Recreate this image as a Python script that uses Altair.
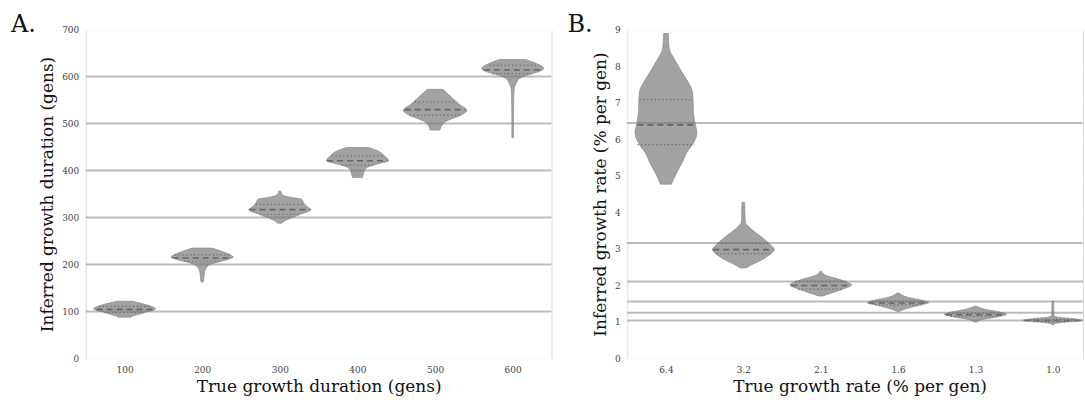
import altair as alt
import pandas as pd

# ---------------- Panel A data ----------------
A_labels = ["100", "200", "300", "400", "500", "600"]
A_true = [100, 200, 300, 400, 500, 600]
# violin outlines: (inferred value, half-width as fraction of category spacing)
A_profiles = [
    [(122, 0.10), (118, 0.20), (113, 0.31), (108, 0.39), (106, 0.40), (103, 0.37),
     (99, 0.28), (94, 0.18), (90, 0.10), (88, 0.08)],
    [(235, 0.13), (230, 0.22), (224, 0.32), (218, 0.39), (215.5, 0.40), (212, 0.35),
     (207, 0.24), (203, 0.15), (198, 0.08), (192, 0.05), (185, 0.032), (175, 0.023), (163, 0.015)],
    [(356, 0.015), (350, 0.026), (346, 0.064), (342, 0.18), (339, 0.28), (334, 0.30),
     (328, 0.32), (322, 0.36), (317, 0.40), (313, 0.37), (308, 0.28), (303, 0.21),
     (298, 0.13), (293, 0.064), (288, 0.026)],
    [(449, 0.14), (442, 0.26), (431, 0.35), (421, 0.40), (414, 0.26), (407, 0.13),
     (400, 0.09), (392, 0.075), (385, 0.064)],
    [(572.7, 0.10), (562, 0.17), (551.5, 0.24), (540, 0.32), (528, 0.41), (516, 0.31),
     (505.5, 0.15), (497, 0.09), (486, 0.064)],
    [(636, 0.17), (628, 0.30), (617, 0.40), (611, 0.35), (604.5, 0.22), (596, 0.09),
     (587, 0.05), (580, 0.03), (574, 0.02), (550, 0.013), (520, 0.01), (470, 0.01)],
]
A_median = [(104.6, 0.36), (214, 0.38), (316.8, 0.39), (420.7, 0.39), (529.6, 0.39), (613.7, 0.37)]
A_q3 = [(111, 0.33), (220.6, 0.35), (328, 0.31), (431, 0.33), (545.9, 0.26), (623.6, 0.30)]
A_q1 = [(98, 0.26), (207, 0.23), (307, 0.26), (411.5, 0.20), (518, 0.33), (606, 0.26)]

# ---------------- Panel B data ----------------
B_labels = ["6.4", "3.2", "2.1", "1.6", "1.3", "1.0"]
B_true = [6.44, 3.16, 2.11, 1.56, 1.25, 1.04]
B_profiles = [
    [(8.89, 0.03), (8.64, 0.035), (8.41, 0.05), (8.27, 0.087), (8.0, 0.16), (7.82, 0.21),
     (7.55, 0.29), (7.32, 0.34), (7.09, 0.35), (6.73, 0.355), (6.45, 0.375), (6.18, 0.40),
     (5.91, 0.36), (5.64, 0.27), (5.36, 0.21), (5.09, 0.14), (4.77, 0.07)],
    [(4.27, 0.017), (4.0, 0.02), (3.73, 0.026), (3.59, 0.078), (3.41, 0.18), (3.23, 0.29),
     (3.09, 0.36), (2.98, 0.40), (2.84, 0.34), (2.68, 0.22), (2.53, 0.078), (2.48, 0.04)],
    [(2.38, 0.013), (2.27, 0.07), (2.18, 0.22), (2.09, 0.34), (2.02, 0.40), (1.91, 0.30),
     (1.80, 0.15), (1.71, 0.026)],
    [(1.79, 0.013), (1.68, 0.12), (1.59, 0.32), (1.53, 0.40), (1.45, 0.26), (1.36, 0.10),
     (1.29, 0.013)],
    [(1.43, 0.013), (1.35, 0.12), (1.27, 0.32), (1.21, 0.40), (1.14, 0.28), (1.07, 0.09),
     (1.0, 0.013)],
    [(1.57, 0.01), (1.18, 0.015), (1.14, 0.05), (1.09, 0.26), (1.045, 0.39), (1.0, 0.17),
     (0.955, 0.026), (0.93, 0.013)],
]
B_median = [(6.39, 0.37), (2.98, 0.39), (2.0, 0.38), (1.52, 0.38), (1.2, 0.38), (1.04, 0.37)]
B_q3 = [(7.08, 0.34), (3.15, 0.33), (2.11, 0.33), (1.57, 0.34), (1.24, 0.35), (1.07, 0.30)]
B_q1 = [(5.85, 0.37), (2.87, 0.35), (1.90, 0.29), (1.47, 0.30), (1.15, 0.32), (1.01, 0.25)]

SERIF = "DejaVu Serif"
BG = "#e6e6e6"


def violin_frame(profiles):
    rows = []
    for i, prof in enumerate(profiles):
        for v, w in prof:
            rows.append({"cat": i, "v": v, "left": i - w, "right": i + w})
    return pd.DataFrame(rows)


def line_frame(items):
    return pd.DataFrame([{"cat": i, "v": v, "left": i - w, "right": i + w}
                         for i, (v, w) in enumerate(items)])


def panel(labels, true_vals, profiles, med, q3, q1, ymax, ystep, xmax, width,
          ytitle, xtitle, letter, letter_dx, xtitle_x=None):
    label_expr = "[" + ",".join("'%s'" % s for s in labels) + "][datum.value]"
    xaxis_kw = dict(values=list(range(len(labels))), labelExpr=label_expr, grid=False,
                    domain=False, ticks=False, labelFont=SERIF, labelFontSize=9,
                    labelColor="#444", labelPadding=7, labelOverlap=False, tickCount=50,
                    title=xtitle, titleFont=SERIF,
                    titleFontSize=17, titleFontWeight="normal", titleColor="#111",
                    titlePadding=4)
    if xtitle_x is not None:
        xaxis_kw["titleX"] = xtitle_x
    xaxis = alt.Axis(**xaxis_kw)
    xscale = alt.Scale(domain=[-0.5, xmax], nice=False, zero=False)
    yscale = alt.Scale(domain=[0, ymax], nice=False)
    nt = int(round(ymax / ystep))
    yvals = [round(k * ystep, 6) for k in range(nt + 1)]
    yaxis = alt.Axis(values=yvals, tickCount=50, format="d", grid=True, gridColor="white",
                     gridWidth=1.5, domain=False, ticks=False, labelFont=SERIF,
                     labelFontSize=9, labelColor="#444", labelPadding=7, labelOverlap=False,
                     title=ytitle, titleFont=SERIF,
                     titleFontSize=17, titleFontWeight="normal", titleColor="#111",
                     titlePadding=5)

    vdf = violin_frame(profiles)
    area = alt.Chart(vdf).mark_area(
        orient="horizontal", interpolate="monotone", fill="#a2a2a2",
        stroke="#8a8a8a", strokeWidth=0.7, clip=True
    ).encode(
        y=alt.Y("v:Q", scale=yscale, axis=yaxis),
        x=alt.X("left:Q", scale=xscale, axis=xaxis, stack=False),
        x2="right:Q",
        detail="cat:N",
    )
    med_r = alt.Chart(line_frame(med)).mark_rule(
        color="#666666", strokeWidth=1.6, strokeDash=[6, 4], clip=True
    ).encode(y=alt.Y("v:Q", scale=yscale, axis=yaxis),
             x=alt.X("left:Q", scale=xscale, axis=xaxis), x2="right:Q")
    q_df = pd.concat([line_frame(q3), line_frame(q1)], ignore_index=True)
    q_r = alt.Chart(q_df).mark_rule(
        color="#666666", strokeWidth=1.2, strokeDash=[1.2, 2.6], clip=True
    ).encode(y=alt.Y("v:Q", scale=yscale, axis=yaxis),
             x=alt.X("left:Q", scale=xscale, axis=xaxis), x2="right:Q")
    ref = alt.Chart(pd.DataFrame({"t": true_vals})).mark_rule(
        color="#7a7a7a", opacity=0.5, strokeWidth=2
    ).encode(y=alt.Y("t:Q", scale=yscale, axis=yaxis))
    tag = alt.Chart(pd.DataFrame({"s": [letter]})).mark_text(
        align="left", baseline="alphabetic", font=SERIF, fontSize=24, color="#111"
    ).encode(text="s:N", x=alt.value(letter_dx), y=alt.value(3))

    return alt.layer(area, med_r, q_r, ref, tag).properties(width=width, height=330)


A = panel(A_labels, A_true, A_profiles, A_median, A_q3, A_q1, 700, 100, 5.5, 467,
          "Inferred growth duration (gens)", "True growth duration (gens)", "A.", -75)
B = panel(B_labels, B_true, B_profiles, B_median, B_q3, B_q1, 9, 1, 5.39, 457,
          "Inferred growth rate (% per gen)", "True growth rate (% per gen)", "B.", -60,
          xtitle_x=233)

chart = alt.hconcat(A, B, spacing=76, bounds="flush").properties(
    padding={"left": 10, "top": 12, "right": 0, "bottom": 5}
).configure_view(fill=BG, strokeWidth=0).configure(background="white")

chart.save("out.html", embed_options={"renderer": "svg", "actions": False})
